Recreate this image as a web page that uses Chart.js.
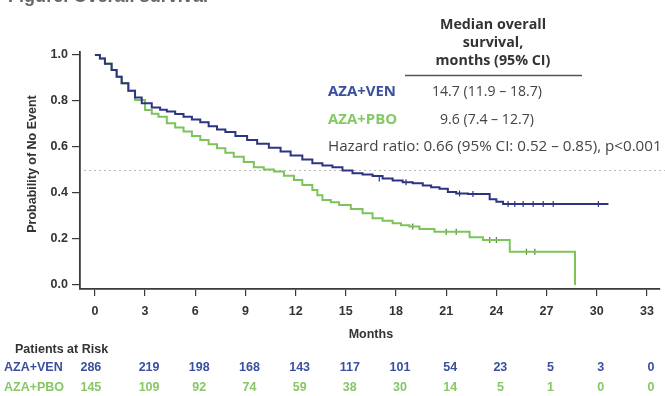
<!DOCTYPE html>
<html>
<head>
<meta charset="utf-8">
<script src="https://cdn.jsdelivr.net/npm/chart.js@4"></script>
<style>
  html, body { margin: 0; padding: 0; background: #fff; }
  #wrap { width: 665px; height: 396px; }
</style>
</head>
<body>
<div id="wrap"><canvas id="km" width="665" height="396"></canvas></div>
<script>
// KM curves (months, probability of no event)
const venTime = [0, 0.3, 0.6, 1.0, 1.3, 1.6, 2.0, 2.4, 2.8, 3.4, 3.9, 4.3, 4.8, 5.3, 5.8, 6.3, 6.8, 7.3, 7.8, 8.4, 9.1, 9.7, 10.4, 11.1, 11.7, 12.4, 13.0, 13.6, 14.2, 14.8, 15.4, 16.0, 16.6, 17.2, 17.8, 18.4, 19.0, 19.6, 20.1, 20.6, 21.1, 21.6, 22.3, 23.6, 24.0, 24.4, 30.7];
const venSurv = [1.0, 0.985, 0.962, 0.935, 0.905, 0.877, 0.845, 0.815, 0.79, 0.772, 0.762, 0.754, 0.743, 0.732, 0.72, 0.708, 0.69, 0.676, 0.665, 0.648, 0.63, 0.614, 0.597, 0.58, 0.563, 0.546, 0.529, 0.52, 0.512, 0.498, 0.486, 0.48, 0.474, 0.463, 0.454, 0.447, 0.442, 0.433, 0.425, 0.418, 0.404, 0.398, 0.396, 0.373, 0.362, 0.352, 0.352];

const pboTime = [0, 0.3, 0.6, 1.0, 1.3, 1.6, 2.0, 2.4, 3.0, 3.4, 3.8, 4.3, 4.8, 5.3, 5.8, 6.3, 6.8, 7.3, 7.8, 8.3, 8.9, 9.5, 10.1, 10.7, 11.3, 11.9, 12.4, 13.0, 13.3, 13.6, 14.1, 14.6, 15.3, 16.0, 16.6, 17.2, 17.8, 18.3, 18.8, 19.4, 20.3, 22.4, 23.2, 24.8, 28.7];
const pboSurv = [1.0, 0.985, 0.962, 0.935, 0.905, 0.877, 0.845, 0.804, 0.761, 0.745, 0.732, 0.703, 0.685, 0.667, 0.648, 0.63, 0.612, 0.594, 0.575, 0.558, 0.535, 0.512, 0.502, 0.493, 0.475, 0.457, 0.435, 0.413, 0.39, 0.37, 0.36, 0.348, 0.33, 0.312, 0.29, 0.279, 0.268, 0.26, 0.254, 0.243, 0.232, 0.208, 0.196, 0.145, 0.0];

// censored marks
const venCensorTime = [17.0, 18.6, 21.8, 22.6, 24.7, 25.1, 25.6, 26.2, 26.8, 27.4, 30.1];
const venCensorSurv = [0.463, 0.447, 0.398, 0.396, 0.352, 0.352, 0.352, 0.352, 0.352, 0.352, 0.352];
const pboCensorTime = [19.0, 21.0, 21.6, 23.6, 24.0, 25.8, 26.3];
const pboCensorSurv = [0.254, 0.232, 0.232, 0.196, 0.196, 0.145, 0.145];

const monthTicks = [0, 3, 6, 9, 12, 15, 18, 21, 24, 27, 30, 33];
const probTicks = [0, 0.2, 0.4, 0.6, 0.8, 1.0];
const venAtRisk = [286, 219, 198, 168, 143, 117, 101, 54, 23, 5, 3, 0];
const pboAtRisk = [145, 109, 92, 74, 59, 38, 30, 14, 5, 1, 0, 0];

const BLUE = '#2b3582';
const GREEN = '#7cc35a';
const TXT_BLUE = '#3a4f9e';
const TXT_GREEN = '#86c766';
const AXIS = '#3a3a3a';
const SANS = '"Liberation Sans", Arial, sans-serif';
const HUM = '"Open Sans", Lato, sans-serif';

const pts = (t, s) => t.map((v, i) => ({ x: v, y: s[i] }));

// draw text sized so that it spans the given width
function fitText(ctx, text, x, y, w, weight, family) {
  ctx.font = `${weight} 20px ${family}`;
  const size = 20 * w / ctx.measureText(text).width;
  ctx.font = `${weight} ${size.toFixed(2)}px ${family}`;
  ctx.fillText(text, x, y);
}

const extras = {
  id: 'extras',
  beforeDatasetsDraw(chart) {
    const { ctx, chartArea, scales: { y } } = chart;
    const yy = Math.round(y.getPixelForValue(0.5)) + 0.5;
    ctx.save();
    ctx.strokeStyle = '#b8b8b8';
    ctx.lineWidth = 1.2;
    ctx.setLineDash([2, 3]);
    ctx.beginPath();
    ctx.moveTo(chartArea.left + 4, yy);
    ctx.lineTo(chart.width, yy);
    ctx.stroke();
    ctx.restore();
  },
  afterDraw(chart) {
    const { ctx, scales: { x } } = chart;
    ctx.save();

    // cut-off figure caption at the very top
    ctx.fillStyle = '#666';
    ctx.textAlign = 'left';
    ctx.textBaseline = 'alphabetic';
    fitText(ctx, 'Figure. Overall survival', 8, 2, 200, 'bold', SANS);
    ctx.textBaseline = 'middle';

    // median table
    ctx.fillStyle = '#333';
    ctx.textAlign = 'center';
    fitText(ctx, 'Median overall', 493, 25, 106, 'bold', HUM);
    ctx.fillText('survival,', 493, 43);
    ctx.fillText('months (95% CI)', 493, 61);
    ctx.strokeStyle = '#555';
    ctx.lineWidth = 1.3;
    ctx.beginPath();
    ctx.moveTo(405, 75.5);
    ctx.lineTo(582, 75.5);
    ctx.stroke();

    ctx.textAlign = 'left';
    ctx.fillStyle = TXT_BLUE;
    fitText(ctx, 'AZA+VEN', 328, 92, 68, 'bold', HUM);
    ctx.fillStyle = TXT_GREEN;
    ctx.fillText('AZA+PBO', 328, 120);
    ctx.fillStyle = '#444';
    fitText(ctx, '14.7 (11.9 \u2013 18.7)', 432, 92, 110, 'normal', HUM);
    ctx.fillText('9.6 (7.4 \u2013 12.7)', 440, 120);
    fitText(ctx, 'Hazard ratio: 0.66 (95% CI: 0.52 \u2013 0.85), p<0.001', 328, 147, 334, 'normal', HUM);

    // axis titles
    ctx.fillStyle = '#333';
    ctx.font = 'bold 12.5px ' + SANS;
    ctx.textAlign = 'center';
    ctx.fillText('Months', x.getPixelForValue(16.5), 335);
    ctx.save();
    ctx.translate(33, 164);
    ctx.rotate(-Math.PI / 2);
    ctx.fillText('Probability of No Event', 0, 0);
    ctx.restore();

    // patients at risk
    ctx.textAlign = 'left';
    ctx.fillText('Patients at Risk', 15, 350);
    ctx.fillStyle = TXT_BLUE;
    ctx.fillText('AZA+VEN', 4, 368);
    ctx.fillStyle = TXT_GREEN;
    ctx.fillText('AZA+PBO', 4, 388);
    ctx.textAlign = 'center';
    monthTicks.forEach((m, i) => {
      const px = x.getPixelForValue(m) + (i === 0 ? -4 : 4);
      ctx.fillStyle = TXT_BLUE;
      ctx.fillText(String(venAtRisk[i]), px, 368);
      ctx.fillStyle = TXT_GREEN;
      ctx.fillText(String(pboAtRisk[i]), px, 388);
    });
    ctx.restore();
  }
};

const censorStyle = color => ({
  type: 'scatter', showLine: false, pointStyle: 'line', rotation: 90,
  pointRadius: 3, pointBorderColor: color, pointBorderWidth: 1.2, borderColor: color
});

new Chart(document.getElementById('km'), {
  type: 'line',
  data: {
    datasets: [
      { label: 'AZA+VEN', data: pts(venTime, venSurv), borderColor: BLUE, borderWidth: 2, stepped: true, pointRadius: 0, fill: false },
      { label: 'AZA+PBO', data: pts(pboTime, pboSurv), borderColor: GREEN, borderWidth: 2, stepped: true, pointRadius: 0, fill: false },
      { label: 'ven censored', data: pts(venCensorTime, venCensorSurv), ...censorStyle(BLUE) },
      { label: 'pbo censored', data: pts(pboCensorTime, pboCensorSurv), ...censorStyle('#4f7d3a') }
    ]
  },
  options: {
    responsive: false,
    animation: false,
    layout: { padding: { top: 52, left: 0, right: 0, bottom: 0 } },
    plugins: { legend: { display: false }, tooltip: { enabled: false } },
    scales: {
      x: {
        type: 'linear', min: -0.89, max: 33.77,
        afterBuildTicks: s => { s.ticks = monthTicks.map(v => ({ value: v })); },
        afterFit: s => { s.height = 107; },
        ticks: { color: '#333', font: { family: SANS, size: 12.5, weight: 'bold' }, padding: 8, maxRotation: 0, autoSkip: false },
        grid: { drawOnChartArea: false, drawTicks: true, tickLength: 7, color: AXIS, lineWidth: 1.2 },
        border: { color: AXIS, width: 1.8 }
      },
      y: {
        min: -0.0174, max: 1.013,
        afterBuildTicks: s => { s.ticks = probTicks.map(v => ({ value: v })); },
        afterFit: s => { s.width = 80; },
        ticks: { color: '#333', font: { family: SANS, size: 12.5, weight: 'bold' }, padding: 4, callback: v => v.toFixed(1) },
        grid: { drawOnChartArea: false, drawTicks: true, tickLength: 8, color: AXIS, lineWidth: 1.2 },
        border: { color: AXIS, width: 1.8 }
      }
    }
  },
  plugins: [extras]
});
</script>
</body>
</html>
